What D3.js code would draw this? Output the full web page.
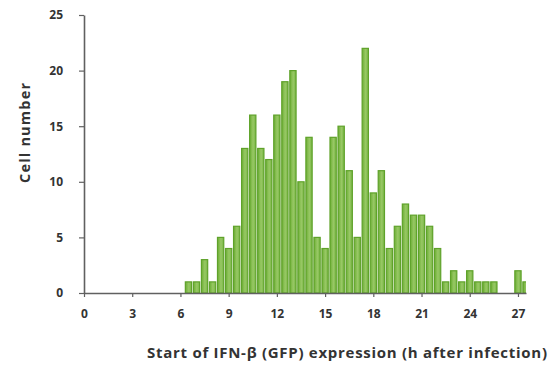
<!DOCTYPE html>
<html>
<head>
<meta charset="utf-8">
<script src="https://cdn.jsdelivr.net/npm/d3@7"></script>
<style>
  body { margin: 0; background: #fff; }
  text { font-family: "Open Sans", "Liberation Sans", sans-serif; font-weight: bold; fill: #333; }
</style>
</head>
<body>
<svg id="chart" width="554" height="368"></svg>
<script>
// bin centres (h after infection), 0.5 h bins
const hours = [
  6.5, 7, 7.5, 8, 8.5, 9, 9.5, 10, 10.5, 11, 11.5, 12, 12.5, 13, 13.5, 14,
  14.5, 15, 15.5, 16, 16.5, 17, 17.5, 18, 18.5, 19, 19.5, 20, 20.5, 21, 21.5,
  22, 22.5, 23, 23.5, 24, 24.5, 25, 25.5, 26, 26.5, 27, 27.5
];
const cells = [
  1, 1, 3, 1, 5, 4, 6, 13, 16, 13, 12, 16, 19, 20, 10, 14,
  5, 4, 14, 15, 11, 5, 22, 9, 11, 4, 6, 8, 7, 7, 6,
  4, 1, 2, 1, 2, 1, 1, 1, 0, 0, 2, 1
];
const xTicks = [0, 3, 6, 9, 12, 15, 18, 21, 24, 27];
const yTicks = [0, 5, 10, 15, 20, 25];

const svg = d3.select("#chart");
const m = { left: 84, right: 526, top: 15, bottom: 293 };

const x = d3.scaleLinear().domain([0, 27.5]).range([m.left, m.right]);
const y = d3.scaleLinear().domain([0, 25]).range([m.bottom, m.top]);
const binW = x(0.5) - x(0);
const barW = binW * 0.78;

const defs = svg.append("defs");
// bars, clipped to the plot like the original
defs.append("clipPath").attr("id", "plot")
  .append("rect").attr("x", m.left).attr("y", 0)
  .attr("width", m.right - m.left).attr("height", m.bottom);

const grad = defs.append("linearGradient").attr("id", "barfill");
grad.append("stop").attr("offset", "0%").attr("stop-color", "#6cae34");
grad.append("stop").attr("offset", "55%").attr("stop-color", "#98c865");
grad.append("stop").attr("offset", "100%").attr("stop-color", "#78b644");

svg.append("g").attr("clip-path", "url(#plot)")
  .selectAll("rect")
  .data(hours.map((h, i) => ({ h, n: cells[i] })).filter(d => d.n > 0))
  .join("rect")
  .attr("x", d => x(d.h) - barW / 2)
  .attr("y", d => y(d.n))
  .attr("width", barW)
  .attr("height", d => y(0) - y(d.n))
  .attr("fill", "url(#barfill)")
  .attr("stroke", "#5fa22a")
  .attr("stroke-width", 1.2);

// axes
const xAxis = svg.append("g")
  .attr("transform", `translate(0,${m.bottom})`)
  .call(d3.axisBottom(x).tickValues(xTicks).tickSize(4).tickPadding(12).tickSizeOuter(0));
const yAxis = svg.append("g")
  .attr("transform", `translate(${m.left},0)`)
  .call(d3.axisLeft(y).tickValues(yTicks).tickSize(5).tickPadding(16).tickSizeOuter(0));

[xAxis, yAxis].forEach(a => {
  a.select(".domain").attr("stroke", "#606060").attr("stroke-width", 1.6);
  a.selectAll(".tick line").attr("stroke", "#606060").attr("stroke-width", 1.2);
  a.selectAll(".tick text").style("font-size", "12px").attr("fill", "#333");
});

svg.append("text")
  .attr("transform", "translate(30,133) rotate(-90)")
  .attr("text-anchor", "middle")
  .attr("textLength", 100)
  .style("font-size", "14.5px")
  .text("Cell number");

svg.append("text")
  .attr("x", 347).attr("y", 358)
  .attr("text-anchor", "middle")
  .attr("textLength", 400)
  .style("font-size", "15px")
  .text("Start of IFN-β (GFP) expression (h after infection)");
</script>
</body>
</html>
